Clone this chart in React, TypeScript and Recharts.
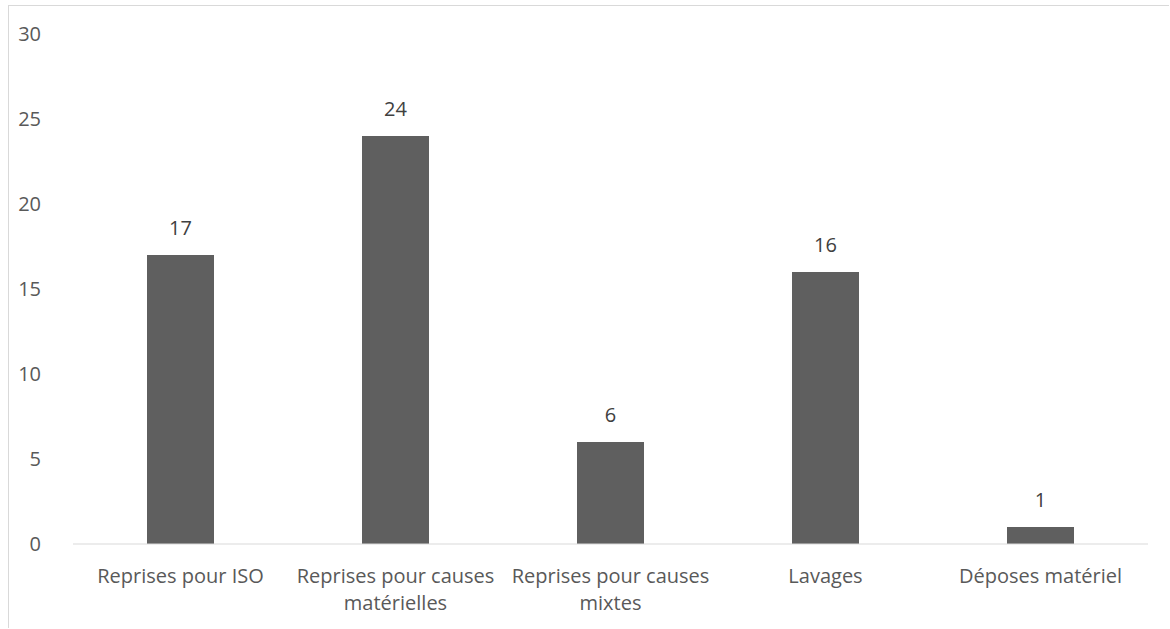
import React from "react";
import { BarChart, Bar, XAxis, YAxis, LabelList } from "recharts";

const categories = [
  "Reprises pour ISO",
  "Reprises pour causes matérielles",
  "Reprises pour causes mixtes",
  "Lavages",
  "Déposes matériel",
];
const tickLines = [
  ["Reprises pour ISO"],
  ["Reprises pour causes", "matérielles"],
  ["Reprises pour causes", "mixtes"],
  ["Lavages"],
  ["Déposes matériel"],
];
const values = [17, 24, 6, 16, 1];
const yTicks = [0, 5, 10, 15, 20, 25, 30];

const data = categories.map((c, i) => ({ name: c, value: values[i], idx: i }));

const FONT = "'Open Sans', sans-serif";
const TEXT = "#595959";

const XTick = (props: any) => {
  const { x, y, index } = props;
  const lines = tickLines[index] || [String(props.payload.value)];
  return (
    <text x={x} y={y + 31} textAnchor="middle" fill={TEXT} fontSize={20} fontFamily={FONT}>
      {lines.map((l, i) => (
        <tspan key={i} x={x} dy={i === 0 ? 0 : 27}>
          {l}
        </tspan>
      ))}
    </text>
  );
};

const YTick = (props: any) => {
  const { x, y, payload } = props;
  return (
    <text x={x - 24} y={y + 7} textAnchor="end" fill={TEXT} fontSize={20} fontFamily={FONT}>
      {payload.value}
    </text>
  );
};

export default function App() {
  return (
    <div
      style={{
        position: "absolute",
        left: 8,
        top: 5,
        width: 1160,
        height: 622,
        borderTop: "1px solid #d9d9d9",
        borderLeft: "1px solid #d9d9d9",
        background: "#fff",
        overflow: "hidden",
      }}
    >
      <BarChart
        width={1160}
        height={620}
        data={data}
        margin={{ top: 28, right: 21, left: 0, bottom: 52 }}
        barSize={67}
      >
        <XAxis
          dataKey="name"
          axisLine={{ stroke: "#d9d9d9", strokeWidth: 1 }}
          tickLine={false}
          tick={<XTick />}
          interval={0}
        />
        <YAxis
          width={64}
          domain={[0, 30]}
          ticks={yTicks}
          axisLine={false}
          tickLine={false}
          tick={<YTick />}
        />
        <Bar dataKey="value" fill="#5f5f5f" isAnimationActive={false}>
          <LabelList
            dataKey="value"
            position="top"
            offset={20}
            fill="#404040"
            fontSize={20}
            fontFamily={FONT}
          />
        </Bar>
      </BarChart>
    </div>
  );
}
